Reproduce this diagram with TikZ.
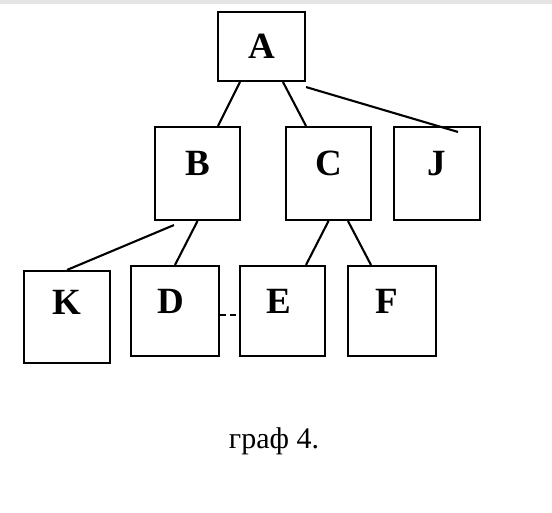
\documentclass[tikz,border=0pt]{standalone}
\usepackage{fontspec}
\setmainfont{Liberation Serif}
\tikzset{
  box/.style={draw, line width=2.1pt, minimum width=86pt, minimum height=92pt, inner sep=0pt},
  lbl/.style={font=\fontsize{37}{40}\selectfont\bfseries, inner sep=0pt},
}
\begin{document}
\begin{tikzpicture}[x=1pt,y=-1pt,line width=2.1pt]
        \useasboundingbox (0,0) rectangle (552,512);
        \fill [black!10] (0,0) rectangle (552,4);
        \node [box, minimum width=87pt, minimum height=69pt, label={[lbl,name=At]center:A}] (A) at (261.5,46.5) {};
        \node [box, minimum width=85pt, minimum height=93pt, label={[lbl,name=Bt,yshift=10]center:B}] (B) at (197.5,173.5) {};
        \node [box, minimum width=85pt, minimum height=93pt, label={[lbl,name=Ct,yshift=10]center:C}] (C) at (328.5,173.5) {};
        \node [box, minimum height=93pt, label={[lbl,name=Jt,yshift=10]center:J}] (J) at (437,173.5) {};
        \node [box, label={[lbl,name=Kt,yshift=15]center:K}] (K) at (67,317) {};
        \node [box, minimum width=88pt, minimum height=90pt, label={[lbl,name=Dt,xshift=-4,yshift=10]center:D}] (D) at (175,311) {};
        \node [box, minimum width=85pt, minimum height=90pt, label={[lbl,name=Et,xshift=-4,yshift=10]center:E}] (E) at (282.5,311) {};
        \node [box, minimum width=88pt, minimum height=90pt, label={[lbl,name=Ft,xshift=-5,yshift=10]center:F}] (F) at (392,311) {};
        \node [anchor=base, font=\fontsize{30}{34}\selectfont] (cap) at (274,448) {граф 4.};
        \draw ([xshift=-21.5]A.south) -- ([xshift=20.5]B.north);
        \draw ([xshift=21.5]A.south) -- ([xshift=-22.5]C.north);
        \draw ([yshift=-5]A.south east) -- ([xshift=21,yshift=-6]J.north);
        \draw (B.south) -- (D.north);
        \draw ([xshift=20,yshift=-4]B.south west) -- (K.north);
        \draw (C.south) -- ([xshift=23.5]E.north);
        \draw ([xshift=19.5]C.south) -- ([xshift=-21]F.north);
        \draw [dash pattern=on 6pt off 4pt] ([yshift=-4]D.east) -- ([yshift=-4]E.west);
    \end{tikzpicture}
\end{document}
